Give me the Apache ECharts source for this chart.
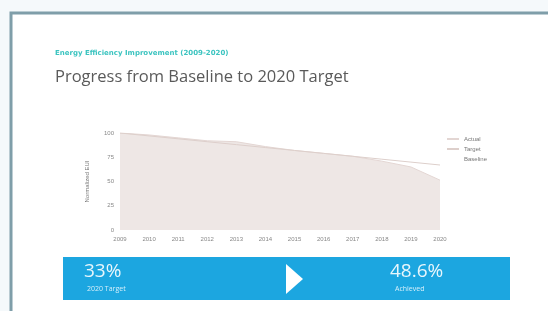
<!DOCTYPE html>
<html>
<head>
<meta charset="utf-8">
<script src="https://cdn.jsdelivr.net/npm/echarts@6/dist/echarts.min.js"></script>
<style>
  html, body { margin: 0; padding: 0; background: #f5f9fb; }
  #main { width: 548px; height: 311px; }
</style>
</head>
<body>
<div id="main"></div>
<script>
const years = ['2009','2010','2011','2012','2013','2014','2015','2016','2017','2018','2019','2020'];
const actual = [100, 98, 95, 92, 91, 86, 82, 79, 76, 71, 65, 51.4];
const target = [100, 97, 94, 91, 88, 85, 82, 79, 76, 73, 70, 67];
const yTicks = [0, 25, 50, 75, 100];
const targetPct = '33%';
const achievedPct = '48.6%';

const chart = echarts.init(document.getElementById('main'));

let option = {
  backgroundColor: '#f5f9fb',
  animation: false,
  graphic: [
    // card
    { type: 'rect', shape: { x: 11, y: 13, width: 560, height: 320 },
      style: { fill: '#ffffff', stroke: '#7f9ea9', lineWidth: 3 }, z: -10 },
    { type: 'text', left: 55, top: 50,
      style: { text: 'Energy Efficiency Improvement (2009-2020)', fill: '#3cc4c0',
               font: 'bold 7px "DejaVu Sans", sans-serif' } },
    { type: 'text', left: 55, top: 69,
      style: { text: 'Progress from Baseline to 2020 Target', fill: '#5a5a5a',
               font: '16.5px "Open Sans", sans-serif' } },
    // banner
    { type: 'rect', shape: { x: 63, y: 257, width: 447, height: 43 },
      style: { fill: '#1ca6e0' } },
    { type: 'text', left: 84, top: 262,
      style: { text: targetPct, fill: '#e8f6fc', font: '19px "Open Sans", sans-serif' } },
    { type: 'text', left: 87, top: 285,
      style: { text: '2020 Target', fill: '#d6effa', font: '7px "Open Sans", sans-serif' } },
    { type: 'polygon', shape: { points: [[286, 264], [286, 294], [303, 279]] },
      style: { fill: '#ffffff' } },
    { type: 'text', left: 390, top: 262,
      style: { text: achievedPct, fill: '#e8f6fc', font: '19px "Open Sans", sans-serif' } },
    { type: 'text', left: 395, top: 285,
      style: { text: 'Achieved', fill: '#d6effa', font: '7px "Open Sans", sans-serif' } }
  ],
  legend: {
    left: 442, top: 131, orient: 'vertical', itemWidth: 12, itemHeight: 2, itemGap: 4,
    textStyle: { fontSize: 6, color: '#777' },
    data: [
      { name: 'Actual', icon: 'rect' },
      { name: 'Target', icon: 'rect' },
      { name: 'Baseline', icon: 'none' }
    ]
  },
  grid: { left: 120, right: 108, top: 133, bottom: 81 },
  xAxis: {
    type: 'category', data: years, boundaryGap: false,
    axisLine: { show: false }, axisTick: { show: false },
    axisLabel: { fontSize: 6, color: '#888', margin: 6 }
  },
  yAxis: {
    type: 'value', min: 0, max: 100, interval: 25,
    name: 'Normalized EUI', nameLocation: 'middle', nameGap: 30, nameRotate: 90,
    nameTextStyle: { fontSize: 6, color: '#777' },
    axisLine: { show: false }, axisTick: { show: false },
    splitLine: { show: false },
    axisLabel: { fontSize: 6, color: '#888', margin: 6,
                 formatter: v => yTicks.indexOf(v) >= 0 ? String(v) : '' }
  },
  series: [
    {
      name: 'Actual', type: 'line', data: actual, showSymbol: false,
      lineStyle: { color: '#e3d6d3', width: 1 },
      itemStyle: { color: '#e3d6d3' },
      areaStyle: { color: '#eee7e5', opacity: 1 }
    },
    {
      name: 'Target', type: 'line', data: target, showSymbol: false,
      lineStyle: { color: '#ddcfcb', width: 1 },
      itemStyle: { color: '#ddcfcb' }
    },
    {
      name: 'Baseline', type: 'line', data: [], showSymbol: false,
      itemStyle: { color: '#bbb' }
    }
  ]
};

chart.setOption(option);
</script>
</body>
</html>
